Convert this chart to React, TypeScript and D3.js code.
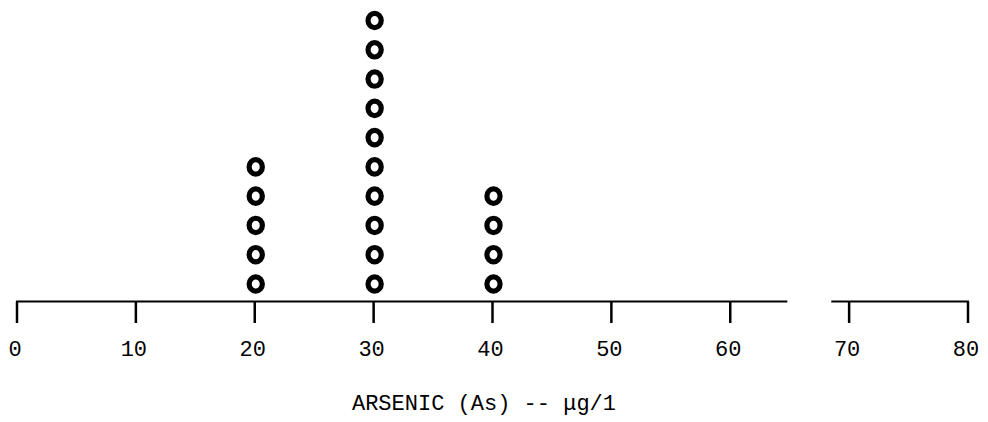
import React from "react";
import * as d3 from "d3";

const values = [20, 30, 40];
const counts = [5, 10, 4];
const tickValues = [0, 10, 20, 30, 40, 50, 60, 70, 80];
const axisTitle = "ARSENIC (As) -- μg/1";
const axisBreak = [64.8, 68.5];

export default function App() {
  const width = 988;
  const height = 422;
  const x = d3.scaleLinear().domain([0, 80]).range([17, 968]);
  const y = d3.scaleLinear().domain([1, 10]).range([284, 20.5]);
  const axisY = 301.5;
  const font = "'Liberation Mono', 'DejaVu Sans Mono', monospace";

  const dots: { v: number; i: number }[] = [];
  values.forEach((v, k) => {
    d3.range(1, counts[k] + 1).forEach((i) => dots.push({ v, i }));
  });

  return (
    <svg
      width={width}
      height={height}
      style={{ position: "absolute", left: 0, top: 0, background: "#fff" }}
    >
      <line x1={x(0) - 1} x2={x(axisBreak[0])} y1={axisY} y2={axisY} stroke="#000" strokeWidth={2} />
      <line x1={x(axisBreak[1])} x2={x(80) + 1} y1={axisY} y2={axisY} stroke="#000" strokeWidth={2} />
      {tickValues.map((t) => (
        <g key={t}>
          <line x1={x(t)} x2={x(t)} y1={axisY} y2={323} stroke="#000" strokeWidth={2.5} />
          <text
            x={x(t) - 2}
            y={356}
            textAnchor="middle"
            fontFamily={font}
            fontSize={22}
            fill="#000"
          >
            {t}
          </text>
        </g>
      ))}
      {dots.map((d, k) => (
        <ellipse
          key={k}
          cx={x(d.v) + 1}
          cy={y(d.i)}
          rx={6.6}
          ry={7.2}
          fill="#fff"
          stroke="#000"
          strokeWidth={5.2}
        />
      ))}
      <text
        x={484}
        y={410}
        textAnchor="middle"
        fontFamily={font}
        fontSize={22}
        fill="#000"
      >
        {axisTitle}
      </text>
    </svg>
  );
}
